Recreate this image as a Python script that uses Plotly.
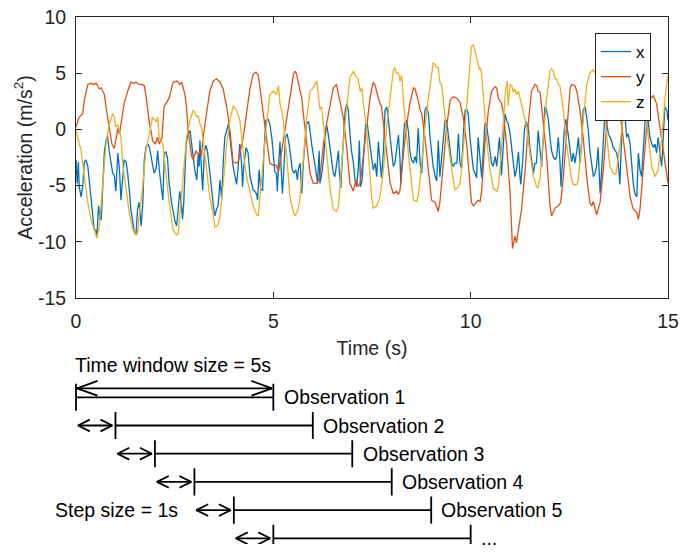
import plotly.graph_objects as go

# ---------------- data ----------------
t_x = [0.00,0.03,0.06,0.08,0.13,0.17,0.21,0.25,0.30,0.34,0.38,0.42,0.46,0.51,0.53,0.57,0.61,0.64,0.68,0.72,0.76,0.80,0.84,0.89,0.93,0.97,
       1.01,1.06,1.10,1.14,1.18,1.22,1.27,1.31,1.35,1.39,1.44,1.48,1.52,1.56,1.60,1.65,1.69,1.73,1.77,1.82,1.86,1.90,1.94,1.98,
       2.03,2.07,2.11,2.15,2.20,2.24,2.28,2.32,2.36,2.42,2.46,2.51,2.55,2.59,2.63,2.68,2.70,2.73,2.79,2.84,2.89,2.93,2.97,
       3.01,3.06,3.10,3.12,3.14,3.18,3.21,3.25,3.29,3.33,3.39,3.44,3.48,3.52,3.56,3.60,3.65,3.69,3.73,3.77,3.82,3.86,3.90,3.94,3.98,
       4.03,4.07,4.11,4.15,4.20,4.22,4.25,4.31,4.36,4.41,4.45,4.49,4.53,4.58,4.60,4.64,4.68,4.73,4.76,4.81,4.87,4.91,4.96,5.00,
       5.04,5.08,5.10,5.14,5.17,5.19,5.23,5.27,5.31,5.35,5.40,5.44,5.48,5.52,5.57,5.61,5.63,5.68,5.72,5.76,5.80,5.84,5.89,5.93,5.97,
       6.01,6.06,6.10,6.12,6.16,6.18,6.22,6.27,6.31,6.35,6.39,6.44,6.48,6.52,6.56,6.60,6.65,6.67,6.71,6.74,6.77,6.82,6.86,6.90,6.94,6.98,
       7.03,7.07,7.11,7.15,7.18,7.21,7.25,7.30,7.34,7.38,7.42,7.47,7.51,7.53,7.58,7.62,7.66,7.70,7.74,7.79,7.83,7.87,7.91,7.96,
       8.00,8.04,8.08,8.12,8.17,8.21,8.23,8.28,8.32,8.38,8.42,8.46,8.50,8.55,8.59,8.63,8.67,8.72,8.76,8.80,8.84,8.88,8.93,8.97,
       9.01,9.05,9.10,9.14,9.18,9.22,9.26,9.31,9.35,9.39,9.43,9.48,9.52,9.56,9.60,9.65,9.69,9.73,9.77,9.81,9.86,9.90,9.94,9.98,
       10.03,10.07,10.11,10.15,10.19,10.24,10.28,10.32,10.36,10.40,10.45,10.49,10.53,10.57,10.62,10.66,10.70,10.73,10.76,10.78,10.83,10.87,10.91,10.95,
       11.00,11.04,11.08,11.12,11.16,11.21,11.25,11.27,11.32,11.36,11.40,11.46,11.50,11.55,11.59,11.63,11.67,11.71,11.76,11.80,11.84,11.88,11.92,11.97,
       12.01,12.05,12.09,12.14,12.18,12.22,12.26,12.29,12.33,12.37,12.41,12.47,12.52,12.56,12.60,12.64,12.69,12.73,12.77,12.81,12.85,12.90,12.94,12.98,
       13.02,13.07,13.11,13.15,13.19,13.23,13.28,13.32,13.36,13.40,13.45,13.49,13.53,13.57,13.61,13.66,13.70,13.74,13.78,13.82,13.85,13.88,13.92,13.95,13.99,
       14.04,14.08,14.12,14.16,14.21,14.25,14.29,14.33,14.37,14.42,14.46,14.50,14.54,14.59,14.63,14.67,14.71,14.75,14.80,14.84,14.88,14.92,14.97,15.00]
acc_x = [-2.7,-4.8,-2.9,-5.1,-6.0,-5.1,-2.9,-2.7,-3.3,-4.8,-6.5,-7.7,-8.9,-9.0,-9.5,-6.8,-8.0,-8.0,-5.1,-1.9,-1.0,-0.6,-1.9,-3.3,-3.9,-4.1,
         -5.5,-2.1,-3.5,-6.3,-4.5,-2.7,-2.9,-3.9,-5.4,-7.1,-8.3,-9.2,-9.3,-7.1,-6.5,-8.6,-6.8,-2.7,-1.6,-1.3,-1.6,-2.4,-3.0,-3.9,
         -3.5,-1.9,-3.6,-5.1,-6.3,-2.1,-2.0,-2.6,-4.8,-6.5,-7.4,-8.2,-8.6,-7.1,-5.5,-7.1,-8.0,-6.5,-1.3,-0.4,-0.1,-1.3,-2.7,
         -3.6,-4.5,-2.1,-3.3,-1.0,-3.6,-5.4,-2.1,-1.4,-1.9,-3.6,-5.4,-6.8,-7.7,-7.1,-6.8,-4.5,-6.3,-3.0,-0.7,-0.1,0.5,-0.7,-2.1,-3.3,
         -4.2,-4.9,-3.3,-1.3,-3.3,-5.1,-3.3,-1.6,-2.1,-4.2,-4.8,-5.4,-5.5,-5.8,-6.3,-3.6,-5.4,-5.4,-2.1,0.8,0.9,0.5,-0.7,-2.1,
         -3.8,-3.9,-5.5,-2.7,-1.1,-3.0,-5.7,-3.3,-0.7,-0.4,-1.3,-2.4,-3.6,-3.9,-3.6,-4.5,-3.6,-3.0,-5.7,-3.0,-1.3,0.5,0.7,-0.1,-1.3,
         -2.4,-3.3,-4.2,-4.8,-1.9,-4.8,-4.1,-2.7,-0.7,0.4,-0.4,-1.9,-3.0,-3.9,-4.2,-3.3,-1.9,-3.6,-5.2,-3.0,-0.7,1.7,2.3,1.7,-0.4,-1.9,
         -3.0,-4.5,-5.1,-3.6,-1.0,-5.1,-4.5,-1.9,0.5,0.5,-0.7,-1.9,-3.3,-3.6,-3.0,-4.2,-1.1,-2.7,-4.3,-1.9,1.7,2.0,1.1,-0.7,
         -2.4,-3.3,-3.0,-1.9,-0.5,-2.7,-4.8,-2.1,0.5,0.8,-0.1,-1.9,-2.7,-3.0,-2.4,-3.0,0.1,-3.0,-3.9,-1.3,1.7,2.0,1.4,-0.7,
         -2.4,-3.3,-4.2,-4.6,-1.0,-4.2,-2.7,-0.7,0.8,0.8,-0.4,-2.1,-3.0,-3.3,-3.0,-3.0,-0.4,-3.0,-3.5,-0.7,1.7,1.8,1.4,-0.7,
         -2.4,-3.6,-3.9,-4.3,-0.7,-2.7,-4.3,-1.9,0.5,0.5,-0.7,-1.9,-3.0,-3.3,-2.4,-3.3,-1.3,-0.7,-2.7,-4.1,-1.3,1.4,0.8,0.5,
         -0.4,-1.9,-3.3,-4.2,-3.6,-2.0,-4.2,-4.9,-2.7,-0.1,0.7,0.2,-1.6,-3.0,-3.9,-3.0,-3.0,-0.1,-1.9,-3.3,-0.7,2.0,1.8,0.8,
         -0.7,-1.9,-2.4,-2.7,-2.4,-0.7,-2.7,-5.1,-2.7,-0.1,0.9,-0.4,-1.9,-2.9,-2.1,-3.0,-1.9,-0.7,-3.0,-1.3,1.7,2.0,1.1,-0.1,
         -1.9,-3.0,-4.2,-3.9,-3.3,-1.6,-5.7,-3.6,-1.3,1.4,0.5,-0.4,-0.7,-1.0,-1.6,-1.9,-2.1,-3.0,-4.9,-1.3,2.3,1.7,0.8,-0.7,-0.4,
         -1.3,-3.3,-4.8,-5.7,-6.0,-2.1,-3.6,-4.2,-1.9,0.8,2.0,0.8,-0.7,-1.3,-1.6,-1.3,-2.1,-0.7,-1.9,-3.3,-0.7,2.0,1.7,0.8]

t_y = [0.00,0.08,0.17,0.21,0.30,0.38,0.45,0.51,0.55,0.59,0.64,0.68,0.72,0.76,0.84,0.91,0.97,
       1.01,1.06,1.10,1.14,1.22,1.31,1.39,1.46,1.52,1.60,1.66,1.73,1.79,1.86,1.90,1.94,
       2.01,2.07,2.11,2.18,2.21,2.23,2.28,2.36,2.46,2.55,2.59,2.63,2.68,2.72,2.76,2.80,2.84,2.93,2.97,
       3.04,3.10,3.14,3.18,3.22,3.31,3.39,3.48,3.56,3.65,3.73,3.77,3.82,3.90,3.98,
       4.07,4.11,4.15,4.24,4.32,4.41,4.49,4.56,4.62,4.66,4.74,4.83,4.91,5.00,
       5.08,5.13,5.17,5.25,5.34,5.42,5.51,5.55,5.59,5.68,5.72,5.76,5.84,5.93,
       6.01,6.10,6.18,6.27,6.35,6.44,6.52,6.60,6.65,6.69,6.77,6.86,6.94,
       7.03,7.07,7.11,7.15,7.20,7.28,7.36,7.45,7.53,7.58,7.66,7.70,7.74,7.79,7.87,7.96,
       8.04,8.12,8.17,8.21,8.29,8.38,8.46,8.55,8.59,8.67,8.72,8.76,8.84,8.93,
       9.01,9.10,9.18,9.22,9.31,9.39,9.48,9.56,9.65,9.73,9.81,9.90,9.98,
       10.02,10.07,10.15,10.19,10.24,10.28,10.36,10.45,10.53,10.62,10.66,10.70,10.78,10.83,10.91,
       11.00,11.06,11.12,11.16,11.21,11.29,11.38,11.46,11.54,11.63,11.67,11.71,11.76,11.84,11.92,
       12.01,12.05,12.14,12.22,12.28,12.35,12.43,12.52,12.56,12.64,12.69,12.77,12.85,12.94,
       13.02,13.07,13.11,13.19,13.28,13.36,13.45,13.53,13.61,13.70,13.78,13.87,13.95,
       14.04,14.12,14.21,14.25,14.29,14.37,14.46,14.54,14.63,14.71,14.80,14.88,14.97,15.00]
acc_y = [0.2,1.1,1.4,2.6,4.0,4.1,4.0,4.1,3.9,3.6,3.7,3.4,3.1,2.0,0.2,-1.3,-1.7,
         -0.8,0.1,-0.4,0.5,2.3,3.4,4.2,4.1,4.2,4.0,4.0,3.9,2.6,0.5,-0.1,-1.0,
         -1.3,-0.7,-1.3,-0.7,0.9,2.0,2.3,2.8,4.2,4.3,4.2,4.0,4.2,3.6,3.1,2.0,-0.1,-2.4,-2.7,
         -1.9,-2.3,-2.0,-2.3,-0.7,1.7,3.4,4.3,4.5,4.2,3.6,2.8,2.0,-0.1,-2.9,
         -3.0,-2.9,-2.1,-0.7,1.4,3.7,4.9,5.1,4.8,3.7,1.7,-1.0,-3.0,-3.2,
         -3.2,-3.8,-2.9,-0.7,1.1,2.8,4.9,5.2,4.9,3.4,2.8,1.4,-1.3,-3.9,
         -4.8,-4.8,-4.2,-1.3,0.5,2.3,3.7,4.0,3.1,2.7,1.1,-1.6,-4.8,
         -5.5,-4.8,-4.5,-5.1,-4.8,-2.4,-0.1,2.8,4.2,3.9,2.8,2.3,2.1,0.5,-2.1,-4.8,
         -5.7,-5.5,-5.8,-5.4,-2.4,0.5,2.3,3.7,3.6,2.6,1.7,1.4,-0.7,-3.6,
         -6.3,-6.5,-7.3,-6.5,-3.0,0.2,2.6,2.9,2.8,2.4,1.1,-1.3,-4.8,
         -6.5,-6.8,-6.5,-6.3,-6.4,-5.4,-1.3,1.7,3.4,3.8,3.7,2.8,2.3,1.4,-1.3,
         -5.7,-10.6,-9.5,-10.1,-8.9,-7.1,-3.6,0.5,3.4,4.0,3.9,3.4,3.3,0.8,-2.1,
         -6.8,-7.7,-7.0,-6.8,-6.5,-4.2,-0.4,3.7,4.0,3.9,3.4,1.7,-0.7,-4.2,
         -6.5,-6.8,-6.4,-7.6,-6.5,-3.6,0.5,2.6,3.1,2.8,1.7,-0.7,-3.3,
         -6.0,-7.1,-7.4,-8.0,-7.1,-3.6,0.2,2.7,3.0,2.3,0.2,-2.1,-4.2,-4.8]

t_z = [0.00,0.04,0.13,0.21,0.30,0.38,0.46,0.53,0.59,0.68,0.76,0.84,0.93,0.97,
       1.01,1.06,1.10,1.14,1.18,1.27,1.35,1.44,1.52,1.56,1.60,1.69,1.77,1.86,1.94,1.98,
       2.04,2.07,2.11,2.20,2.28,2.36,2.46,2.55,2.59,2.63,2.72,2.80,2.89,2.97,
       3.01,3.06,3.10,3.14,3.18,3.22,3.31,3.39,3.48,3.52,3.60,3.65,3.73,3.82,3.90,3.98,
       4.07,4.15,4.20,4.24,4.32,4.41,4.49,4.58,4.62,4.66,4.74,4.83,4.91,4.96,5.00,
       5.08,5.13,5.17,5.21,5.25,5.34,5.42,5.51,5.55,5.63,5.68,5.76,5.84,5.93,
       6.01,6.10,6.14,6.18,6.22,6.27,6.35,6.44,6.52,6.60,6.65,6.69,6.77,6.86,6.94,
       7.03,7.07,7.15,7.20,7.24,7.28,7.36,7.45,7.49,7.53,7.62,7.70,7.79,7.87,7.96,
       8.04,8.08,8.12,8.17,8.21,8.25,8.29,8.38,8.46,8.55,8.63,8.67,8.76,8.84,8.93,
       9.01,9.05,9.10,9.14,9.18,9.22,9.26,9.31,9.39,9.48,9.56,9.60,9.69,9.73,9.77,9.86,9.94,
       10.02,10.07,10.11,10.15,10.22,10.24,10.28,10.32,10.40,10.49,10.57,10.66,10.70,10.74,10.83,10.89,10.93,10.95,
       11.00,11.04,11.08,11.12,11.16,11.21,11.25,11.33,11.42,11.50,11.59,11.67,11.71,11.76,11.84,11.92,
       12.01,12.05,12.09,12.14,12.18,12.22,12.26,12.35,12.43,12.52,12.56,12.60,12.69,12.73,12.77,12.85,12.94,
       13.02,13.10,13.20,13.30,13.38,13.45,13.53,13.61,13.68,13.78,13.86,13.95,
       14.05,14.15,14.25,14.35,14.42,14.50,14.59,14.67,14.75,14.82,14.88,14.94,15.00]
acc_z = [-0.1,-0.7,-1.9,-4.2,-6.5,-8.0,-9.0,-9.7,-8.6,-4.8,-1.3,0.5,1.4,1.1,
         0.2,0.4,-0.2,-0.7,-3.0,-5.4,-7.4,-8.9,-9.4,-9.2,-7.7,-5.1,-1.9,-0.4,1.1,0.9,
         0.7,1.1,-0.7,-1.3,-4.2,-6.5,-8.9,-9.4,-9.3,-7.7,-4.5,-0.7,0.8,1.7,
         1.5,1.1,1.2,0.5,0.2,-1.0,-3.6,-6.0,-7.7,-8.7,-8.5,-7.7,-4.8,-1.3,0.8,2.1,
         1.7,0.8,-0.7,-2.1,-4.2,-5.7,-6.8,-7.6,-7.7,-6.0,-2.7,0.5,3.1,3.3,3.4,
         3.1,3.9,2.3,1.7,0.8,-2.4,-6.0,-7.4,-7.7,-7.1,-6.0,-2.7,0.8,3.4,
         3.7,4.3,3.1,1.8,2.0,0.5,-2.1,-5.4,-7.1,-7.3,-6.8,-5.1,-1.3,2.0,4.6,
         5.2,4.8,4.5,3.4,3.7,2.3,0.2,-4.2,-6.0,-7.0,-6.8,-6.0,-3.6,0.2,3.1,
         5.2,5.5,5.0,5.0,4.3,4.8,2.8,-0.7,-3.6,-6.3,-6.4,-6.0,-3.0,0.2,2.8,
         4.9,5.9,5.8,5.5,5.5,4.2,4.0,2.6,-0.4,-2.7,-4.8,-5.4,-5.1,-4.8,-3.6,0.2,4.0,
         7.4,7.5,7.0,6.4,5.3,5.5,4.9,2.8,-0.7,-3.6,-5.2,-5.5,-5.1,-3.6,0.8,3.7,4.3,2.1,
         4.0,3.9,3.3,3.6,3.1,3.4,2.8,1.7,0.2,-2.1,-4.2,-5.1,-5.2,-4.2,-0.7,2.6,
         5.2,5.4,5.2,4.5,4.5,4.0,3.9,1.7,-1.3,-3.8,-4.5,-4.9,-4.9,-4.5,-2.7,0.8,4.0,
         5.0,5.3,4.8,3.5,2.0,-0.7,-3.3,-3.9,-4.0,-1.5,1.0,2.6,
         4.0,4.6,4.2,3.0,2.0,-0.7,-3.3,-4.2,-3.6,-1.5,1.0,3.3,4.8]

series_names = ["x", "y", "z"]
series_colors = ["#0072BD", "#D95319", "#EDB120"]
x_tick_vals = [0, 5, 10, 15]
y_tick_vals = [-15, -10, -5, 0, 5, 10]
y_tick_text = ["-15", "-10", "-5", "0", "5", "10"]
x_range = [0, 15]
y_range = [-15, 10]
x_title = "Time (s)"
y_title = "Acceleration (m/s<sup>2</sup>)"

window_size = 5
step_size = 1
obs_labels = ["Observation 1", "Observation 2", "Observation 3",
              "Observation 4", "Observation 5", "..."]
window_label = "Time window size = 5s"
step_label = "Step size = 1s"

# ---------------- layout geometry (pixels) ----------------
W, H = 696, 554
ML, MR, MT, MB = 20, 20, 17, 10
PW, PH = W - ML - MR, H - MT - MB
ax_left, ax_right, ax_top, ax_bottom = 76, 668, 17, 298
px_per_s = (ax_right - ax_left) / (x_range[1] - x_range[0])


def fx(px):
    return (px - ML) / PW


def fy(py):
    return (H - MB - py) / PH


x2_range = [-1, 15]
x2_left = ax_left + (x2_range[0] - x_range[0]) * px_per_s
row0_py, row_gap = 397.3, 28.2
diag_top, diag_bot = 356, 544
y2_range = [(diag_bot - row0_py) / row_gap, (diag_top - row0_py) / row_gap]

FONT = "Liberation Sans, Arial, Helvetica, sans-serif"
FS = 19.5
AXC = "#262626"

fig = go.Figure()
for t, v, name, col in zip([t_x, t_y, t_z], [acc_x, acc_y, acc_z], series_names, series_colors):
    fig.add_trace(go.Scatter(x=t, y=v, name=name, mode="lines",
                             line=dict(color=col, width=1.3)))

# ---------------- sliding-window diagram ----------------
tick_h = 0.48
big_L, big_h = 0.52, 0.26
small_L, small_h = 0.30, 0.21
xs, ys = [], []


def seg(points):
    for p in points:
        xs.append(p[0])
        ys.append(p[1])
    xs.append(None)
    ys.append(None)


def double_arrow(x0, x1, r, L, h):
    seg([(x0, r), (x1, r)])
    seg([(x0 + L, r - h), (x0, r), (x0 + L, r + h)])
    seg([(x1 - L, r - h), (x1, r), (x1 - L, r + h)])


for i, lab in enumerate(obs_labels):
    start = i * step_size
    end = start + window_size
    seg([(start, i), (end, i)])
    seg([(start, i - tick_h), (start, i + tick_h)])
    seg([(end, i - tick_h), (end, i + tick_h)])
    if i >= 1:
        double_arrow(start - step_size + 0.05, start - 0.08, i, small_L, small_h)

big_r = (388.3 - row0_py) / row_gap
double_arrow(0.025, window_size - 0.035, big_r, big_L, big_h)

fig.add_trace(go.Scatter(x=xs, y=ys, xaxis="x2", yaxis="y2", mode="lines",
                         line=dict(color="black", width=1.8), showlegend=False,
                         hoverinfo="skip"))

annotations = []
for i, lab in enumerate(obs_labels):
    end = i * step_size + window_size
    annotations.append(dict(x=end + 0.21, y=i, xref="x2", yref="y2", text=lab,
                            showarrow=False, xanchor="left", yanchor="middle",
                            font=dict(family=FONT, size=FS, color="black")))
annotations.append(dict(x=-0.08, y=(365 - row0_py) / row_gap, xref="x2", yref="y2",
                        text=window_label, showarrow=False, xanchor="left",
                        yanchor="middle", font=dict(family=FONT, size=FS, color="black")))
step_row = 4
annotations.append(dict(x=(step_row - 1) * step_size + 0.05 - 0.41, y=step_row,
                        xref="x2", yref="y2", text=step_label, showarrow=False,
                        xanchor="right", yanchor="middle",
                        font=dict(family=FONT, size=FS, color="black")))

axis_common = dict(showline=True, linecolor=AXC, linewidth=1, mirror="ticks",
                   ticks="inside", ticklen=6, tickcolor=AXC, tickwidth=1,
                   showgrid=False, zeroline=False,
                   tickfont=dict(family=FONT, size=FS, color=AXC))

fig.update_layout(
    width=W, height=H,
    margin=dict(l=ML, r=MR, t=MT, b=MB, pad=0),
    paper_bgcolor="white", plot_bgcolor="white",
    template="none",
    font=dict(family=FONT, size=FS, color=AXC),
    xaxis=dict(domain=[fx(ax_left), fx(ax_right)], range=x_range, tickvals=x_tick_vals,
               anchor="y", ticklabelstandoff=6,
               title=dict(text=x_title, standoff=9, font=dict(family=FONT, size=FS, color=AXC)),
               **axis_common),
    yaxis=dict(domain=[fy(ax_bottom), fy(ax_top)], range=y_range, tickvals=y_tick_vals,
               ticktext=y_tick_text, anchor="x", ticklabelstandoff=5,
               title=dict(text=y_title, standoff=0, font=dict(family=FONT, size=FS, color=AXC)),
               **axis_common),
    xaxis2=dict(domain=[fx(x2_left), fx(ax_right)], range=x2_range, visible=False,
                anchor="y2", fixedrange=True),
    yaxis2=dict(domain=[fy(diag_bot), fy(diag_top)], range=y2_range, visible=False,
                anchor="x2", fixedrange=True),
    legend=dict(x=fx(651), y=fy(33), xanchor="right", yanchor="top",
                bgcolor="white", bordercolor=AXC, borderwidth=1,
                font=dict(family=FONT, size=17, color="black"),
                entrywidth=26, tracegroupgap=0),
    annotations=annotations,
    showlegend=True,
)

fig.write_html("out.html", config={"displayModeBar": False},
               post_script="document.body.style.margin='0px';"
                           "document.body.style.overflow='hidden';")
